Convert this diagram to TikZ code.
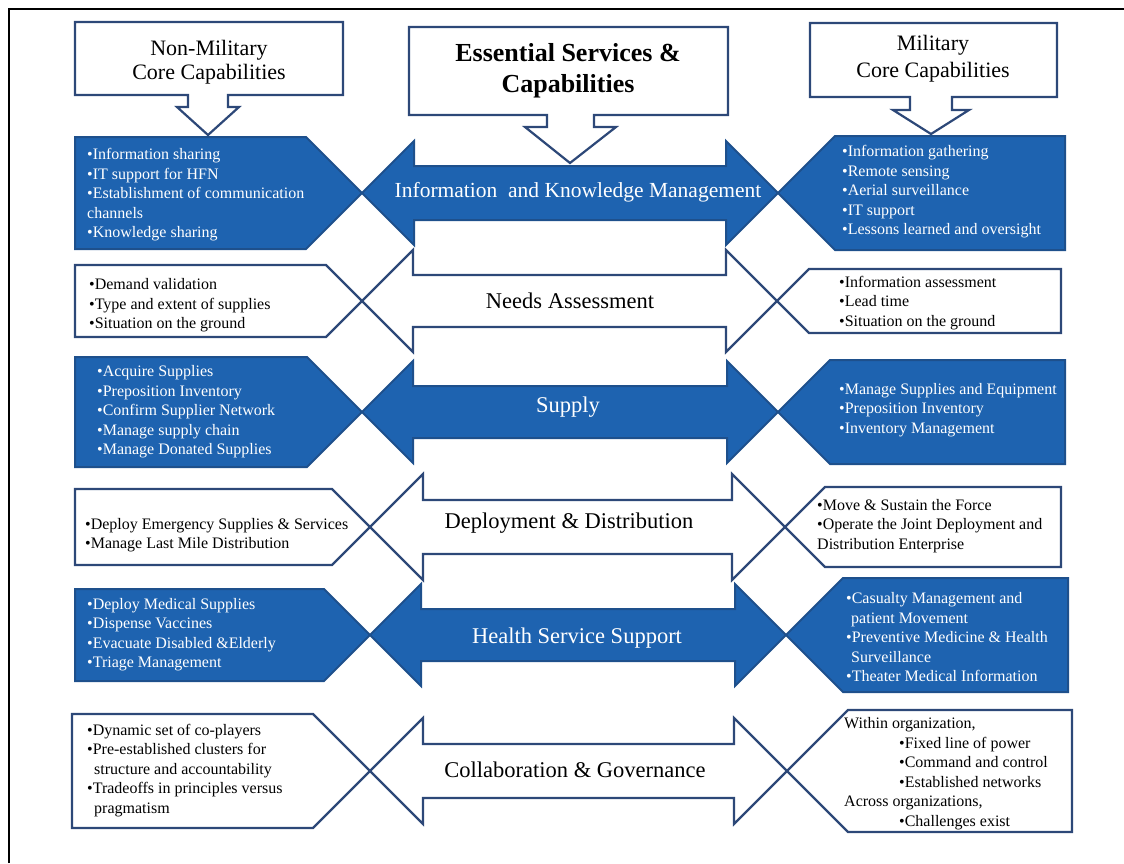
\documentclass[tikz,border=0pt]{standalone}
\usepackage{fontspec}
\setmainfont{Liberation Serif}

\definecolor{navyLine}{RGB}{45,72,120}
\definecolor{blueFill}{RGB}{30,99,176}
\definecolor{blueEdge}{RGB}{30,80,140}

\tikzset{
	blueBox/.style={draw=blueEdge, fill=blueFill, line width=2pt, line join=miter},
	whiteBox/.style={draw=navyLine, fill=white, line width=2.2pt, line join=miter},
	listText/.style={font=\fontsize{16}{19.5}\selectfont, align=left, inner sep=0pt, anchor=west, yshift=-2pt},
	bigLabel/.style={font=\fontsize{22.5}{27}\selectfont, inner sep=0pt, yshift=-2pt},
	headLabel/.style={font=\fontsize{22}{24.5}\selectfont, align=center, inner sep=0pt, yshift=-2pt}
}

\begin{document}
\begin{tikzpicture}[x=1pt, y=-1pt]
	\useasboundingbox (0,0) rectangle (1124,863);
	\draw[line width=2.5pt] (9,863) -- (9,9) -- (1124,9);

	% draw header callouts
	\draw[whiteBox] (75,22) -- (343,22) -- (343,95) -- (228,95) -- (228,107) -- (239,107) -- (208,135) -- (177,107) -- (188,107) -- (188,95) -- (75,95) -- cycle;
	\node[headLabel](nonMilitaryHead) at (209,60){Non-Military\\Core Capabilities};

	\draw[whiteBox] (409,27) -- (728,27) -- (728,115) -- (594,115) -- (594,127) -- (616,127) -- (570,163) -- (525,127) -- (547,127) -- (547,115) -- (409,115) -- cycle;
	\node[headLabel, font=\fontsize{26}{31}\selectfont\bfseries](servicesHead) at (568,68.5){Essential Services \&\\Capabilities};

	\draw[whiteBox] (810,23) -- (1057,23) -- (1057,97) -- (952,97) -- (952,110) -- (969,110) -- (931,134) -- (893,110) -- (910,110) -- (910,97) -- (810,97) -- cycle;
	\node[headLabel, font=\fontsize{22}{27}\selectfont](militaryHead) at (933,56.5){Military\\Core Capabilities};

	% draw row 1 shapes
	\draw[blueBox] (75,137) -- (306,137) -- (362,193) -- (306,249) -- (75,249) -- cycle;
	\draw[blueBox] (362,193) -- (414,141) -- (414,166) -- (726,166) -- (726,141) -- (778,193) -- (726,245) -- (726,220) -- (414,220) -- (414,245) -- cycle;
	\draw[blueBox] (778,193) -- (835,136) -- (1065,136) -- (1065,250) -- (835,250) -- cycle;
	\node[listText, text=white](infoLeft) at (87,193){•Information sharing\\•IT support for HFN\\•Establishment of communication\\channels\\•Knowledge sharing};
	\node[bigLabel, font=\fontsize{21.5}{26}\selectfont, text=white](infoLabel) at (578,190){Information\ \ and Knowledge Management};
	\node[listText, text=white](infoRight) at (842,190){•Information gathering\\•Remote sensing\\•Aerial surveillance\\•IT support\\•Lessons learned and oversight};

	% draw row 2 shapes
	\draw[whiteBox] (75,265) -- (326,265) -- (362,301) -- (326,337) -- (75,337) -- cycle;
	\draw[whiteBox] (362,301) -- (413,250) -- (413,275) -- (726,275) -- (726,250) -- (777,301) -- (726,352) -- (726,327) -- (413,327) -- (413,352) -- cycle;
	\draw[whiteBox] (777,301) -- (809,269) -- (1061,269) -- (1061,333) -- (809,333) -- cycle;
	\node[listText](needsLeft) at (89,303.5){•Demand validation\\•Type and extent of supplies\\•Situation on the ground};
	\node[bigLabel](needsLabel) at (570,299){Needs Assessment};
	\node[listText](needsRight) at (839,301){•Information assessment\\•Lead time\\•Situation on the ground};

	% draw row 3 shapes
	\draw[blueBox] (75,357) -- (307,357) -- (362,412) -- (307,467) -- (75,467) -- cycle;
	\draw[blueBox] (362,412) -- (413,361) -- (413,386) -- (727,386) -- (727,361) -- (778,412) -- (727,463) -- (727,438) -- (413,438) -- (413,463) -- cycle;
	\draw[blueBox] (778,412) -- (830,360) -- (1065,360) -- (1065,464) -- (830,464) -- cycle;
	\node[listText, text=white](supplyLeft) at (97,410){•Acquire Supplies\\•Preposition Inventory\\•Confirm Supplier Network\\•Manage supply chain\\•Manage Donated Supplies};
	\node[bigLabel, text=white](supplyLabel) at (568,405){Supply};
	\node[listText, text=white](supplyRight) at (839,408){•Manage Supplies and Equipment\\•Preposition Inventory\\•Inventory Management};

	% draw row 4 shapes
	\draw[whiteBox] (75,489) -- (332,489) -- (370,527) -- (332,565) -- (75,565) -- cycle;
	\draw[whiteBox] (370,527) -- (423,474) -- (423,500) -- (732,500) -- (732,474) -- (785,527) -- (732,580) -- (732,554) -- (423,554) -- (423,580) -- cycle;
	\draw[whiteBox] (785,527) -- (825,487) -- (1061,487) -- (1061,567) -- (825,567) -- cycle;
	\node[listText](deployLeft) at (85,533){•Deploy Emergency Supplies \& Services\\•Manage Last Mile Distribution};
	\node[bigLabel](deployLabel) at (569,521){Deployment \& Distribution};
	\node[listText](deployRight) at (817,524){•Move \& Sustain the Force\\•Operate the Joint Deployment and\\Distribution Enterprise};

	% draw row 5 shapes
	\draw[blueBox] (75,589) -- (324,589) -- (370,635) -- (324,681) -- (75,681) -- cycle;
	\draw[blueBox] (370,635) -- (421,584) -- (421,609) -- (735,609) -- (735,584) -- (786,635) -- (735,686) -- (735,661) -- (421,661) -- (421,686) -- cycle;
	\draw[blueBox] (786,635) -- (843,578) -- (1068,578) -- (1068,692) -- (843,692) -- cycle;
	\node[listText, text=white](healthLeft) at (87,632.5){•Deploy Medical Supplies\\•Dispense Vaccines\\•Evacuate Disabled \&Elderly\\•Triage Management};
	\node[bigLabel, text=white](healthLabel) at (577,636){Health Service Support};
	\node[listText, text=white](healthRight) at (846,635.5){•Casualty Management and\\\hspace*{5pt}patient Movement\\•Preventive Medicine \& Health\\\hspace*{5pt}Surveillance\\•Theater Medical Information};

	% draw row 6 shapes
	\draw[whiteBox] (72,714) -- (313,714) -- (370,771) -- (313,828) -- (72,828) -- cycle;
	\draw[whiteBox] (370,771) -- (423,718) -- (423,744) -- (734,744) -- (734,718) -- (787,771) -- (734,824) -- (734,798) -- (423,798) -- (423,824) -- cycle;
	\draw[whiteBox] (787,771) -- (848,710) -- (1072,710) -- (1072,832) -- (848,832) -- cycle;
	\node[listText](collabLeft) at (87,768.5){•Dynamic set of co-players\\•Pre-established clusters for\\\hspace*{7pt}structure and accountability\\•Tradeoffs in principles versus\\\hspace*{7pt}pragmatism};
	\node[bigLabel](collabLabel) at (575,768){Collaboration \& Governance};
	\node[listText](collabRight) at (844,771.5){Within organization,\\\hspace*{55pt}•Fixed line of power\\\hspace*{55pt}•Command and control\\\hspace*{55pt}•Established networks\\Across organizations,\\\hspace*{55pt}•Challenges exist};
\end{tikzpicture}
\end{document}
